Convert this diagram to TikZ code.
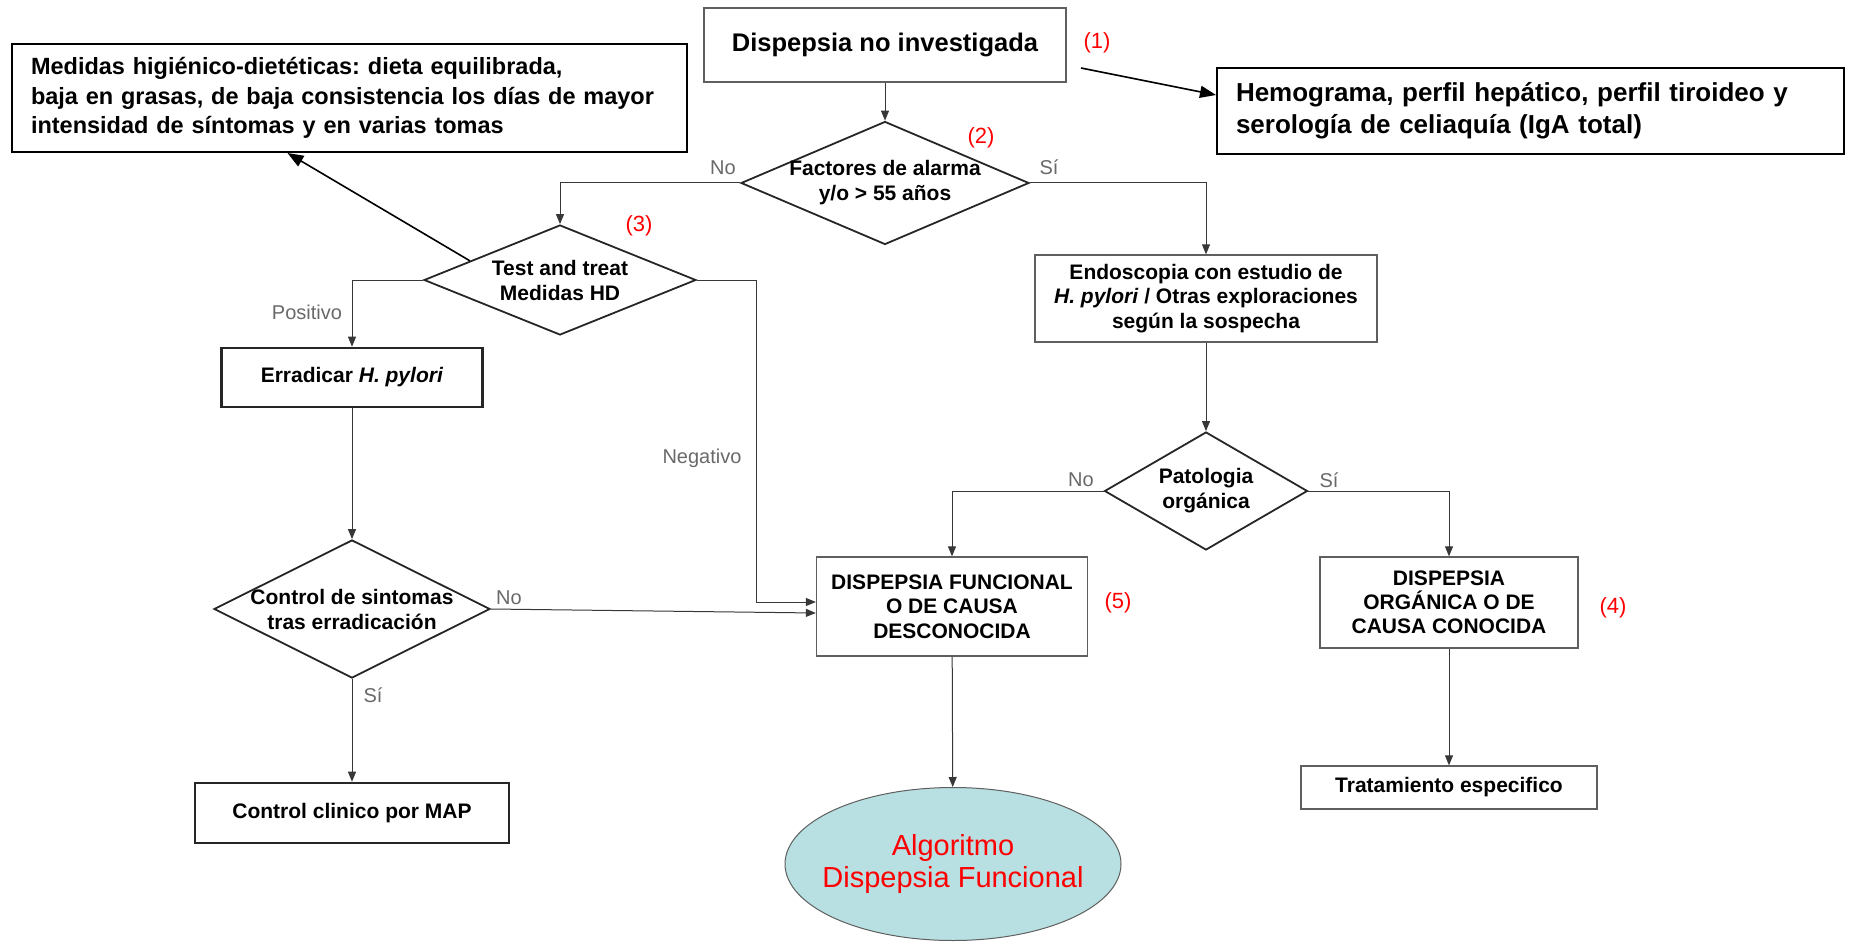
\documentclass[tikz,border=0pt]{standalone}
\usepackage{fontspec}
\setmainfont{Liberation Sans}
\usetikzlibrary{arrows.meta,shapes.geometric}
\frenchspacing

\definecolor{linegray}{RGB}{55,55,55}
\definecolor{boxgray}{RGB}{95,95,95}
\definecolor{labgray}{RGB}{105,105,105}
\definecolor{algofill}{RGB}{184,223,226}

\begin{document}
\begin{tikzpicture}[x=1pt, y=-1pt,
  box/.style={shape=rectangle, draw=boxgray, line width=1.3pt, align=center, inner sep=0pt, font=\fontsize{21}{24.5}\selectfont\bfseries},
  boldbox/.style={box, draw=black!85, line width=2.6pt},
  note/.style={shape=rectangle, draw=black, line width=2pt, align=left, inner xsep=19pt, inner ysep=0pt},
  dec/.style={shape=diamond, draw=black!85, line width=1.8pt, inner sep=-7pt, align=center, font=\fontsize{21}{25}\selectfont\bfseries},
  flow/.style={draw=linegray, line width=1pt, -{Triangle[length=10pt,width=8pt]}},
  callout/.style={draw=black, line width=1.6pt, -{Triangle[length=16pt,width=12pt]}},
  ans/.style={text=labgray, font=\fontsize{20}{20}\selectfont},
  num/.style={text=red, font=\fontsize{22}{22}\selectfont}]
\useasboundingbox (0,0) rectangle (1850,944);

% notas laterales
\node[note, text width=637pt, minimum height=108pt, font=\fontsize{23.5}{29.5}\selectfont\bfseries] (medidas) at (349.5,98) {Medidas higiénico-dietéticas: dieta equilibrada,\\baja en grasas, de baja consistencia los días de mayor\\intensidad de síntomas y en varias tomas};
\node[note, text width=589pt, minimum height=86pt, font=\fontsize{26}{32}\selectfont\bfseries] (hemo) at (1530.5,111) {Hemograma, perfil hepático, perfil tiroideo y\\serología de celiaquía (IgA total)};

% cajas y decisiones
\node[box, minimum width=362pt, minimum height=74pt, font=\fontsize{25.5}{28}\selectfont\bfseries] (disp) at (885,45) {Dispepsia no investigada};
\node[dec, aspect=2.34, minimum width=288pt, minimum height=123pt] (alarma) at (885,183) {Factores de alarma\\y/o > 55 años};
\node[dec, aspect=2.47, minimum width=272pt, minimum height=110pt] (test) at (560,280) {Test and treat\\Medidas HD};
\node[box, minimum width=342pt, minimum height=87pt] (endo) at (1206,298.5) {Endoscopia con estudio de\\\textit{H. pylori} / Otras exploraciones\\según la sospecha};
\node[boldbox, minimum width=261pt, minimum height=59pt] (errad) at (352,377.5) {Erradicar \textit{H. pylori}};
\node[dec, aspect=1.72, minimum width=203pt, minimum height=118pt] (pato) at (1206,491) {Patologia\\orgánica};
\node[dec, aspect=2, minimum width=276pt, minimum height=138pt] (ctrlsint) at (352,609) {Control de sintomas\\tras erradicación};
\node[box, minimum width=271pt, minimum height=99pt] (df) at (952,606.5) {DISPEPSIA FUNCIONAL\\O DE CAUSA\\DESCONOCIDA};
\node[box, minimum width=258pt, minimum height=91pt, font=\fontsize{21}{24}\selectfont\bfseries] (dorg) at (1449,602.5) {DISPEPSIA\\ORGÁNICA O DE\\CAUSA CONOCIDA};
\node[box, minimum width=296pt, minimum height=43pt] (trat) at (1449,787.5) {Tratamiento especifico};
\node[boldbox, minimum width=314pt, minimum height=60pt] (ctrl) at (352,813) {Control clinico por MAP};
\node[shape=ellipse, draw=boxgray, line width=1pt, fill=algofill, inner sep=-16pt, minimum width=336pt, minimum height=153pt, align=center, text=red, font=\fontsize{29}{32}\selectfont] (algo) at (953,864) {Algoritmo\\Dispepsia Funcional};

% numeros
\node[num] (n1) at (1097,43) {(1)};
\node[num] (n2) at (981,138) {(2)};
\node[num] (n3) at (639,226) {(3)};
\node[num] (n4) at (1613,608) {(4)};
\node[num] (n5) at (1118,603) {(5)};

% respuestas
\node[ans] (a1) at (723,168) {No};
\node[ans] (a2) at (1049,167) {Sí};
\node[ans] (a3) at (307,312) {Positivo};
\node[ans] (a4) at (702,458) {Negativo};
\node[ans] (a5) at (509,598) {No};
\node[ans] (a6) at (373,695) {Sí};
\node[ans] (a7) at (1081,480) {No};
\node[ans] (a8) at (1329,480) {Sí};

% conectores
\draw [flow] (disp) -- (alarma);
\draw [flow] (alarma.west) -| (test.north);
\draw [flow] (alarma.east) -| (endo.north);
\draw [flow] (test.west) -| (errad.north);
\draw [flow] (test.east) -- ++(60,0) |- ([yshift=4.5pt]df.west);
\draw [flow] (errad) -- (ctrlsint);
\draw [flow] (ctrlsint.east) -- ([yshift=-6.5pt]df.west);
\draw [flow] (ctrlsint) -- (ctrl);
\draw [flow] (endo) -- (pato);
\draw [flow] (pato.west) -| (df.north);
\draw [flow] (pato.east) -| (dorg.north);
\draw [flow] (df) -- (algo);
\draw [flow] (dorg) -- (trat);

\coordinate (c1) at (1081,68);
\draw [callout] (test.168) -- ([xshift=-62pt]medidas.south);
\draw [callout] (c1) -- ([yshift=16pt]hemo.west);
\end{tikzpicture}
\end{document}
